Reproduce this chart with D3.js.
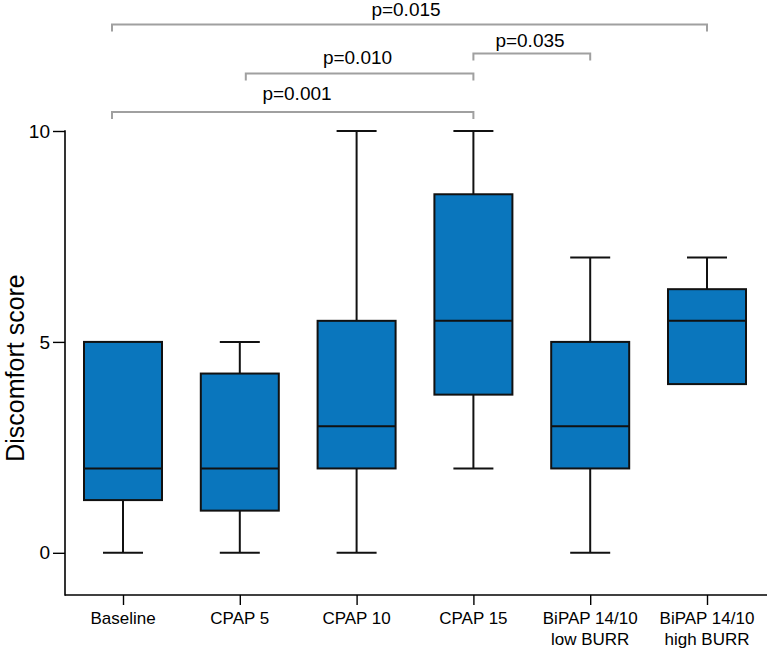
<!DOCTYPE html>
<html><head><meta charset="utf-8">
<script src="https://cdn.jsdelivr.net/npm/d3@7"></script>
<style>body{margin:0;background:#fff}svg{display:block;font-family:"Liberation Sans",Arial,sans-serif}</style>
</head><body><svg id="c" width="767" height="650"></svg>
<script>
const categories = ["Baseline","CPAP 5","CPAP 10","CPAP 15","BiPAP 14/10\nlow BURR","BiPAP 14/10\nhigh BURR"];
const mins    = [0, 0, 0, 2, 0, 4];
const q1s     = [1.25, 1, 2, 3.75, 2, 4];
const medians = [2, 2, 3, 5.5, 3, 5.5];
const q3s     = [5, 4.25, 5.5, 8.5, 5, 6.25];
const maxs    = [5, 5, 10, 10, 7, 7];
const yTicks  = [0, 5, 10];
const bracketFrom = [0, 3, 1, 0];
const bracketTo   = [5, 4, 3, 3];
const bracketLabels = ["p=0.015","p=0.035","p=0.010","p=0.001"];

const svg = d3.select("#c");
const x = d3.scalePoint().domain(categories).range([123, 707]);
const y = d3.scaleLinear().domain([-1, 10]).range([595, 131]);
// bracket heights (pixel rows above plot) and label placement
const bLevel = [24.5, 53.5, 73.5, 112];
const bLabelGap = [8.5, 7, 9.5, 12];
const bLeftOff = {0: -11, 1: 6, 3: 0};
const boxW = 78, capW = 40;
const blue = "#0a76bd";
const stroke = "#111";

// axes
const yAxis = d3.axisLeft(y).tickValues(yTicks).tickSize(12).tickPadding(3).tickSizeOuter(0);
const gy = svg.append("g").attr("transform","translate(65,0)").call(yAxis);
gy.select(".domain").remove();
gy.selectAll("text").style("font-size","19px").attr("fill","#000");
svg.append("line").attr("x1",65).attr("x2",65).attr("y1",y(10)-0.75).attr("y2",y(-1)+0.75).attr("stroke","#000").attr("stroke-width",1.6);
const xAxis = d3.axisBottom(x).tickSize(10).tickSizeOuter(0).tickFormat("");
const gx = svg.append("g").attr("transform",`translate(0,${y(-1)})`).call(xAxis);
gx.select(".domain").remove();
svg.append("line").attr("x1",65).attr("x2",767).attr("y1",y(-1)).attr("y2",y(-1)).attr("stroke","#000").attr("stroke-width",1.6);
gx.selectAll(".tick line").attr("stroke-width",1.4);
gy.selectAll(".tick line").attr("stroke-width",1.4);
categories.forEach(c => {
  const lines = c.split("\n");
  const t = svg.append("text").attr("x", x(c)).attr("y", y(-1)+29).attr("text-anchor","middle").style("font-size","17px");
  lines.forEach((l,i) => t.append("tspan").attr("x", x(c)).attr("dy", i===0?0:21).text(l));
});
svg.append("text").attr("transform",`translate(24,${368}) rotate(-90)`).attr("text-anchor","middle")
  .style("font-size","25px").text("Discomfort score");

// boxes
categories.forEach((c,i) => {
  const cx = x(c);
  const g = svg.append("g").attr("stroke",stroke).attr("stroke-width",2);
  if (maxs[i] > q3s[i]) {
    g.append("line").attr("x1",cx).attr("x2",cx).attr("y1",y(q3s[i])).attr("y2",y(maxs[i]));
    g.append("line").attr("x1",cx-capW/2).attr("x2",cx+capW/2).attr("y1",y(maxs[i])).attr("y2",y(maxs[i]));
  }
  if (mins[i] < q1s[i]) {
    g.append("line").attr("x1",cx).attr("x2",cx).attr("y1",y(q1s[i])).attr("y2",y(mins[i]));
    g.append("line").attr("x1",cx-capW/2).attr("x2",cx+capW/2).attr("y1",y(mins[i])).attr("y2",y(mins[i]));
  }
  g.append("rect").attr("x",cx-boxW/2).attr("width",boxW).attr("y",y(q3s[i])).attr("height",y(q1s[i])-y(q3s[i])).attr("fill",blue);
  g.append("line").attr("x1",cx-boxW/2).attr("x2",cx+boxW/2).attr("y1",y(medians[i])).attr("y2",y(medians[i]));
});

// brackets
const labelCenters = [406, 530, 357.5, 297];
bracketLabels.forEach((lab,i) => {
  const x1 = x(categories[bracketFrom[i]]) + (bLeftOff[bracketFrom[i]] || 0);
  const x2 = x(categories[bracketTo[i]]);
  const yy = bLevel[i];
  svg.append("path").attr("d",`M${x1},${yy+7}V${yy}H${x2}V${yy+7}`).attr("fill","none").attr("stroke","#a0a0a0").attr("stroke-width",2);
  svg.append("text").attr("x",labelCenters[i]).attr("y",yy-bLabelGap[i]).attr("text-anchor","middle").style("font-size","19px").text(lab);
});
</script></body></html>
